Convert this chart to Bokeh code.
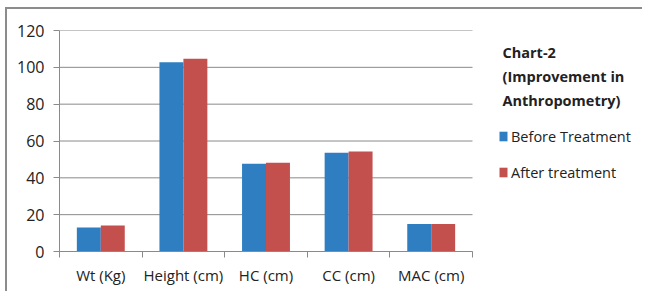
from bokeh.plotting import figure
from bokeh.models import ColumnDataSource, FixedTicker, Legend, LegendItem, Label, Range1d
from bokeh.embed import file_html
from bokeh.resources import INLINE

categories = ["Wt (Kg)", "Height (cm)", "HC (cm)", "CC (cm)", "MAC (cm)"]
before = [13.0, 102.8, 47.6, 53.6, 15.0]
after = [14.1, 104.6, 48.2, 54.3, 15.0]
y_ticks = [0, 20, 40, 60, 80, 100, 120]
series_names = ["Before Treatment", "After treatment"]
title_lines = ["Chart-2", "(Improvement in", "Anthropometry)"]

FONT = "Open Sans"
BLUE = "#2F7EC1"
RED = "#C4504E"
GRID = "#8a8a8a"

n = len(categories)
centers = [i + 0.5 for i in range(n)]
bw = 0.29
src = ColumnDataSource(dict(
    xb=[c - bw / 2 for c in centers],
    xa=[c + bw / 2 for c in centers],
    before=before, after=after))

W, H = 637, 284
p = figure(width=W, height=H, output_backend="svg", toolbar_location=None,
           x_range=Range1d(0, 7.058), y_range=Range1d(0, 120),
           min_border_left=52, min_border_right=2, min_border_top=21, min_border_bottom=42)
p.styles = {"border-top": "2px solid #8c8c8c", "border-left": "2px solid #8c8c8c",
            "margin-left": "5px", "margin-top": "7px"}

# horizontal gridlines spanning the category area only
p.segment(x0=[0] * len(y_ticks), x1=[n] * len(y_ticks), y0=y_ticks, y1=y_ticks,
          line_color=GRID, line_width=1)

rb = p.vbar(x="xb", top="before", width=bw, bottom=0, source=src, fill_color=BLUE, line_color=None)
ra = p.vbar(x="xa", top="after", width=bw, bottom=0, source=src, fill_color=RED, line_color=None)

p.outline_line_color = None
p.xgrid.grid_line_color = None
p.ygrid.grid_line_color = None

p.yaxis.ticker = FixedTicker(ticks=y_ticks)
p.yaxis.axis_line_color = GRID
p.yaxis.major_tick_line_color = GRID
p.yaxis.major_tick_out = 6
p.yaxis.major_tick_in = 0
p.yaxis.minor_tick_line_color = None
p.yaxis.major_label_text_font = FONT
p.yaxis.major_label_text_font_size = "16px"
p.yaxis.major_label_text_color = "#222222"
p.yaxis.major_label_standoff = 9

p.xaxis.bounds = (0, n)
p.xaxis.ticker = FixedTicker(ticks=centers, minor_ticks=list(range(n + 1)))
p.xaxis.major_label_overrides = {c: lab for c, lab in zip(centers, categories)}
p.xaxis.axis_line_color = GRID
p.xaxis.major_tick_line_color = None
p.xaxis.minor_tick_line_color = GRID
p.xaxis.minor_tick_out = 6
p.xaxis.minor_tick_in = 0
p.xaxis.major_label_text_font = FONT
p.xaxis.major_label_text_font_size = "15px"
p.xaxis.major_label_text_color = "#222222"
p.xaxis.major_label_standoff = 7

legend = Legend(items=[LegendItem(label=series_names[0], renderers=[rb]),
                       LegendItem(label=series_names[1], renderers=[ra])],
                location=(439, 69), orientation="vertical",
                glyph_width=10, glyph_height=12, label_height=20, spacing=16,
                label_standoff=3, padding=0, margin=0,
                border_line_color=None, background_fill_alpha=0,
                label_text_font=FONT, label_text_font_size="14.5px", label_text_color="#222222")
p.add_layout(legend, "center")

for i, t in enumerate(title_lines):
    p.add_layout(Label(x=443, y=199 - 24 * i, x_units="screen", y_units="screen", text=t,
                       text_font=FONT, text_font_size="14.5px", text_font_style="bold",
                       text_baseline="middle", text_color="#222222"))

open("out.html", "w").write(file_html(p, INLINE))
